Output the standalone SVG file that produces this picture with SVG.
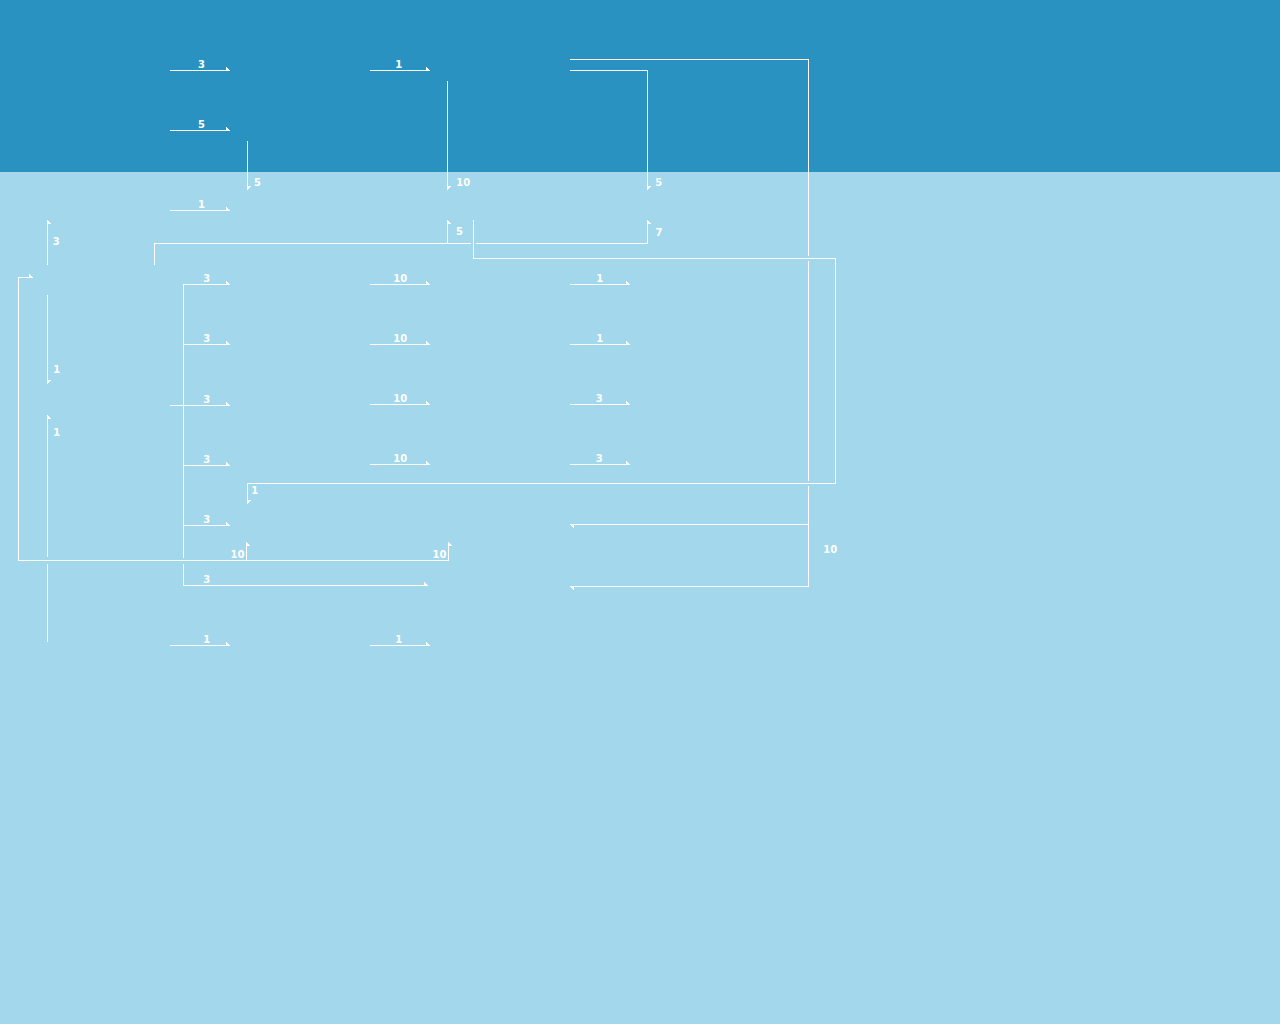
<svg xmlns="http://www.w3.org/2000/svg" width="1280" height="1024" viewBox="0 0 1280 1024">
<style>
.bg-top{fill:#2992c1}
.bg{fill:#a3d7eb}
.c{fill:none;stroke:#ffffff;stroke-width:1;shape-rendering:crispEdges}
.ca{fill:none;stroke:#ffffff;stroke-width:1;shape-rendering:crispEdges;marker-end:url(#ahL)}
.cu{fill:none;stroke:#ffffff;stroke-width:1;shape-rendering:crispEdges;marker-end:url(#ahR)}
.lbl{font-family:"DejaVu Sans","Liberation Sans",sans-serif;font-size:10px;font-weight:bold;fill:#ffffff;text-anchor:middle}
</style>
<defs>
<marker id="ahL" markerUnits="userSpaceOnUse" markerWidth="8" markerHeight="8" refX="0" refY="0" orient="auto" overflow="visible">
<path d="M0,0 L-4,-3.5 L-4,0 Z" fill="#ffffff" shape-rendering="crispEdges"/>
</marker>
<marker id="ahR" markerUnits="userSpaceOnUse" markerWidth="8" markerHeight="8" refX="0" refY="0" orient="auto" overflow="visible">
<path d="M0,0 L-4,3.5 L-4,0 Z" fill="#ffffff" shape-rendering="crispEdges"/>
</marker>
</defs>
<rect class="bg" x="0" y="0" width="1280" height="1024"/>
<rect id="lane-top" class="bg-top" x="0" y="0" width="1280" height="172"/>
<g id="connectors">
<path class="ca" d="M170,70.5 H230"/>
<path class="ca" d="M170,130.5 H230"/>
<path class="ca" d="M170,210.5 H230"/>
<path class="ca" d="M370,70.5 H430"/>
<path class="ca" d="M247.5,141 V190"/>
<path class="ca" d="M447.5,81 V190"/>
<path class="ca" d="M570,70.5 H647.5 V190"/>
<path class="c" d="M570,59.5 H808.5 V256 M808.5,261 V481 M808.5,486 V586.5"/>
<path class="ca" d="M808.5,586.5 H570"/>
<path class="ca" d="M808.5,524.5 H570"/>
<path class="cu" d="M154.5,265 V243.5 H447.5 V220"/>
<path class="c" d="M447.5,243.5 H471"/>
<path class="cu" d="M476,243.5 H647.5 V220"/>
<path class="ca" d="M473.5,220 V258.5 H835.5 V483.5 H247.5 V504"/>
<path class="cu" d="M47.5,265 V220"/>
<path class="ca" d="M47.5,295 V384"/>
<path class="c" d="M47.5,642 V564"/>
<path class="cu" d="M47.5,557 V415"/>
<path class="ca" d="M246.5,560.5 H18.5 V277.5 H33"/>
<path class="cu" d="M246.5,560.5 V542"/>
<path class="cu" d="M246.5,560.5 H448.5 V542"/>
<path class="ca" d="M170,405.5 H230"/>
<path class="ca" d="M183.5,405.5 V284.5 H230"/>
<path class="ca" d="M183.5,405.5 V344.5 H230"/>
<path class="ca" d="M183.5,405.5 V465.5 H230"/>
<path class="ca" d="M183.5,405.5 V525.5 H230"/>
<path class="c" d="M183.5,525.5 V557.5"/>
<path class="ca" d="M183.5,563.5 V585.5 H428"/>
<path class="ca" d="M370,284.5 H430"/>
<path class="ca" d="M370,344.5 H430"/>
<path class="ca" d="M370,404.5 H430"/>
<path class="ca" d="M370,464.5 H430"/>
<path class="ca" d="M570,284.5 H630"/>
<path class="ca" d="M570,344.5 H630"/>
<path class="ca" d="M570,404.5 H630"/>
<path class="ca" d="M570,464.5 H630"/>
<path class="ca" d="M170,645.5 H230"/>
<path class="ca" d="M370,645.5 H430"/>
</g>
<g id="labels">
<text class="lbl" x="201.5" y="68">3</text>
<text class="lbl" x="201.5" y="128">5</text>
<text class="lbl" x="201.5" y="208">1</text>
<text class="lbl" x="398.7" y="68">1</text>
<text class="lbl" x="257.5" y="185.5">5</text>
<text class="lbl" x="463.3" y="185.5">10</text>
<text class="lbl" x="658.7" y="185.5">5</text>
<text class="lbl" x="56.3" y="245">3</text>
<text class="lbl" x="459.5" y="235">5</text>
<text class="lbl" x="659" y="236">7</text>
<text class="lbl" x="206.7" y="282.3">3</text>
<text class="lbl" x="206.7" y="342.3">3</text>
<text class="lbl" x="206.7" y="403.3">3</text>
<text class="lbl" x="206.7" y="463.3">3</text>
<text class="lbl" x="206.7" y="523">3</text>
<text class="lbl" x="206.7" y="583">3</text>
<text class="lbl" x="400.3" y="282.3">10</text>
<text class="lbl" x="400.3" y="342.3">10</text>
<text class="lbl" x="400.3" y="402.3">10</text>
<text class="lbl" x="400.3" y="462.3">10</text>
<text class="lbl" x="599.7" y="282.3">1</text>
<text class="lbl" x="599.7" y="342.3">1</text>
<text class="lbl" x="599.3" y="402.3">3</text>
<text class="lbl" x="599.3" y="462.3">3</text>
<text class="lbl" x="56.7" y="373.3">1</text>
<text class="lbl" x="56.7" y="436.3">1</text>
<text class="lbl" x="254.7" y="494.3">1</text>
<text class="lbl" x="237.5" y="558.3">10</text>
<text class="lbl" x="439.5" y="558.3">10</text>
<text class="lbl" x="830.3" y="553.3">10</text>
<text class="lbl" x="206.8" y="643">1</text>
<text class="lbl" x="398.7" y="643">1</text>
</g>
</svg>
